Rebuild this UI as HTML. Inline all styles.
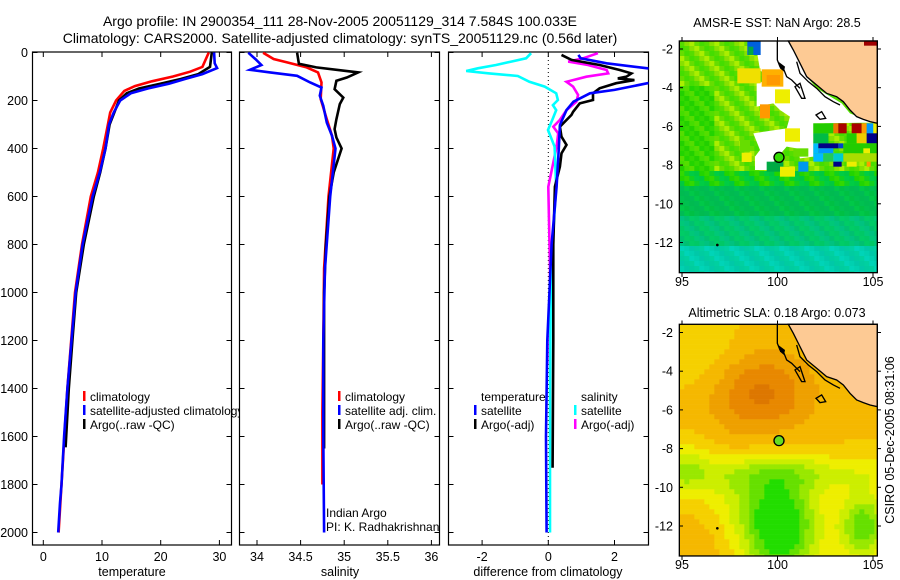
<!DOCTYPE html>
<html><head><meta charset="utf-8"><style>
html,body{margin:0;padding:0;background:#fff;}
svg{display:block;font-family:"Liberation Sans",Arial,sans-serif;}
</style></head><body>
<svg id="fig" width="900" height="580" viewBox="0 0 900 580" xmlns="http://www.w3.org/2000/svg">
<defs>
<clipPath id="c1"><rect x="32.5" y="52" width="199" height="493"/></clipPath>
<clipPath id="c2"><rect x="239.5" y="52" width="200" height="493"/></clipPath>
<clipPath id="c3"><rect x="448.5" y="52" width="200" height="493"/></clipPath>
<clipPath id="cm"><rect x="58" y="33" width="594" height="695"/></clipPath>
</defs>
<text x="340" y="26" text-anchor="middle" font-size="14">Argo profile: IN 2900354_111 28-Nov-2005 20051129_314 7.584S 100.033E</text>
<text x="340" y="43" text-anchor="middle" font-size="14">Climatology: CARS2000. Satellite-adjusted climatology: synTS_20051129.nc (0.56d later)</text>
<g id="profiles"></g>
<text x="777" y="27" text-anchor="middle" font-size="12.5">AMSR-E SST: NaN Argo: 28.5</text>
<text x="777" y="317" text-anchor="middle" font-size="12.5">Altimetric SLA: 0.18 Argo: 0.073</text>
<g id="sstmap" transform="translate(660,30) scale(0.33333)"></g>
<g id="slamap" transform="translate(660,313.3) scale(0.33333)"></g>
<g id="mapaxes"></g>
<text transform="translate(894,440) rotate(-90)" text-anchor="middle" font-size="12.5">CSIRO 05-Dec-2005 08:31:06</text>
</svg>
<script>
// ---- data ----
const tDepthC = [0,60,80,100,120,140,160,200,250,300,400,500,600,800,1000,1200,1400,1600,1800,2000];
const tClim   = [28.2,27.1,25.0,22.1,18.5,15.6,13.8,12.4,11.4,11.0,10.2,9.3,8.1,6.6,5.4,4.75,4.1,3.6,3.1,2.6];
const tDepthS = [0,45,65,90,110,130,150,170,200,250,300,400,500,600,800,1000,1200,1400,1600,1800,1877,2000];
const tSat    = [29.1,29.2,29.6,27.1,24.2,21.4,17.8,14.9,13.1,12.0,11.2,10.6,9.6,8.4,6.7,5.5,4.8,4.1,3.55,3.1,2.84,2.54];
const argoDepth = [0,60,90,110,130,150,170,200,300,400,500,600,800,1000,1200,1400,1645];
const tArgo   = [28.7,28.4,26.4,23.5,20.0,16.3,14.2,12.9,11.3,10.6,9.7,8.6,6.9,5.6,4.95,4.35,3.8];

const sDepthC = [1,27,41,62,83,125,194,278,347,400,600,900,1200,1500,1800];
const sClim   = [34.07,34.19,34.34,34.57,34.70,34.74,34.73,34.80,34.86,34.88,34.82,34.77,34.76,34.75,34.75];
const sDepthS = [1,27,52,72,83,97,125,146,180,222,292,347,400,600,900,1200,1600,2000];
const sSat    = [33.90,33.98,34.05,33.92,34.15,34.46,34.61,34.74,34.72,34.76,34.80,34.86,34.90,34.84,34.78,34.76,34.76,34.77];
const sDepthA = [1,47,62,83,104,118,153,188,215,278,319,354,400,500,600,800,1000,1300,1650];
const sArgo   = [34.46,34.48,34.68,35.16,35.03,34.91,34.89,34.99,34.95,34.91,34.89,34.91,34.97,34.88,34.83,34.79,34.77,34.77,34.77];

const dTSatDepth = [10,24,45,66,80,100,115,128,156,170,205,240,302,392,559,800,1200,1600,2000];
const dTSat      = [0.91,0.98,1.76,3.0,3.6,3.8,3.5,3.0,2.0,1.26,0.76,0.55,0.35,0.32,0.25,0.1,-0.03,-0.07,-0.05];
const dTArgoDepth= [10,31,52,73,87,101,108,115,128,149,170,198,212,247,260,309,351,385,420,476,559,800,1200,1730];
const dTArgo     = [0.4,0.7,1.55,2.16,2.51,2.36,2.1,2.6,2.05,1.55,1.35,1.35,0.95,0.75,0.7,0.35,0.4,0.55,0.4,0.35,0.2,0.15,0.15,0.13];
const dSSatDepth = [3,24,38,52,66,77,87,98,122,142,170,198,219,240,281,323,392,559,900,1400,2000];
const dSSat      = [-0.52,-0.67,-1.12,-1.58,-2.13,-2.48,-1.78,-0.92,-0.57,-0.11,0.24,0.29,0.14,0.24,0.12,-0.01,0.19,0.24,0.08,0.05,0.05];
const dSArgoDepth= [3,24,38,52,73,87,101,122,142,177,205,240,281,309,337,392,559,900,1300];
const dSArgo     = [1.5,1.05,0.6,1.2,1.76,1.81,1.15,0.55,0.75,0.9,0.85,0.55,0.35,0.15,0.3,0.25,0.0,0.05,0.05];

const depthTicks = [0,200,400,600,800,1000,1200,1400,1600,1800,2000];
const tempTicks = [0,10,20,30];
const salTicks = ["34","34.5","35","35.5","36"];
const diffTicks = ["-2","0","2"];

// ---- scales ----
const NS="http://www.w3.org/2000/svg";
const yD = d => 52.5 + d*0.24;
const xT = t => 43.3 + t*5.87;
const xS = s => 257 + (s-34)*87.2;
const xF = v => 548.3 + v*33.1;
const prof = document.getElementById('profiles');
function mk(tag, attrs, parent){const e=document.createElementNS(NS,tag);for(const k in attrs)e.setAttribute(k,attrs[k]);(parent||prof).appendChild(e);return e;}
function line(xs, ds, xf, color, clip, name){
  const pts = xs.map((v,i)=>xf(v).toFixed(1)+','+yD(ds[i]).toFixed(1)).join(' ');
  const p = mk('polyline',{points:pts,fill:'none',stroke:color,'stroke-width':2.6,'clip-path':'url(#'+clip+')'});
  
  
}
const panels=[[32.5,231.5],[239.5,439.5],[448.5,648.5]];
panels.forEach((p,i)=>{
  const r=mk('rect',{x:p[0],y:52,width:p[1]-p[0],height:493,fill:'#fff',stroke:'#000','stroke-width':1.2});
  
  
  depthTicks.forEach(d=>{
    mk('line',{x1:p[0],x2:p[0]+5,y1:yD(d),y2:yD(d),stroke:'#000'});
    mk('line',{x1:p[1],x2:p[1]-5,y1:yD(d),y2:yD(d),stroke:'#000'});
  });
});
depthTicks.forEach(d=>{
  const t=mk('text',{x:28,y:yD(d)+4.5,'text-anchor':'end','font-size':12.5});t.textContent=d;
  
  
});
function xticks(vals, xf, lab){
  vals.forEach(v=>{
    const x=xf(parseFloat(v));
    mk('line',{x1:x,x2:x,y1:545,y2:540,stroke:'#000'});
    mk('line',{x1:x,x2:x,y1:52,y2:57,stroke:'#000'});
    const t=mk('text',{x:x,y:561,'text-anchor':'middle','font-size':12.5});t.textContent=v;
    
    
  });
}
xticks(tempTicks,xT,'temperature');xticks(salTicks,xS,'salinity');xticks(diffTicks,xF,'difference');
[['temperature',132],['salinity',340],['difference from climatology',548]].forEach((a,i)=>{
  const t=mk('text',{x:a[1],y:576,'text-anchor':'middle','font-size':12.5});t.textContent=a[0];
  
  
});
const z=mk('line',{x1:xF(0),x2:xF(0),y1:52,y2:545,stroke:'#000','stroke-dasharray':'1,3'});


line(tClim,tDepthC,xT,'#ff0000','c1','temp-climatology-line');
line(tArgo,argoDepth,xT,'#000','c1','temp-argo-line');
line(tSat,tDepthS,xT,'#0000ff','c1','temp-satellite-line');
line(sClim,sDepthC,xS,'#ff0000','c2','sal-climatology-line');
line(sArgo,sDepthA,xS,'#000','c2','sal-argo-line');
line(sSat,sDepthS,xS,'#0000ff','c2','sal-satellite-line');
line(dSArgo,dSArgoDepth,xF,'#ff00ff','c3','diff-sal-argo-line');
line(dSSat,dSSatDepth,xF,'#00ffff','c3','diff-sal-satellite-line');
line(dTArgo,dTArgoDepth,xF,'#000','c3','diff-temp-argo-line');
line(dTSat,dTSatDepth,xF,'#0000ff','c3','diff-temp-satellite-line');
function leg(x,y,color,text,name,clip){
  if(color){const m=mk('rect',{x:x,y:y-10,width:2.5,height:10,fill:color});
    
    }
  const t=mk('text',{x:x+7,y:y,'font-size':12});t.textContent=text;
  if(clip)t.setAttribute('clip-path','url(#c1x)');
  
  
}
mk('clipPath',{id:'c1x'}).appendChild(document.createElementNS(NS,'rect'));
const cr=document.querySelector('#c1x rect');cr.setAttribute('x',0);cr.setAttribute('y',0);cr.setAttribute('width',239);cr.setAttribute('height',580);
leg(83,401,'#ff0000','climatology','legend-climatology');
leg(83,415,'#0000ff','satellite-adjusted climatology','legend-satellite-adjusted',true);
leg(83,429,'#000','Argo(..raw -QC)','legend-argo');
leg(338,401,'#ff0000','climatology','legend2-climatology');
leg(338,415,'#0000ff','satellite adj. clim.','legend2-satellite');
leg(338,429,'#000','Argo(..raw -QC)','legend2-argo');
leg(474,401,null,'temperature','legend3-temperature-header');
leg(474,415,'#0000ff','satellite','legend3-temp-satellite');
leg(474,429,'#000','Argo(-adj)','legend3-temp-argo');
leg(574,401,null,'salinity','legend3-salinity-header');
leg(574,415,'#00ffff','satellite','legend3-sal-satellite');
leg(574,429,'#ff00ff','Argo(-adj)','legend3-sal-argo');
[['Indian Argo',517],['PI: K. Radhakrishnan',531]].forEach((a,i)=>{
  const t=mk('text',{x:326,y:a[1],'font-size':12});t.textContent=a[0];
  
  
});

// ---- maps ----
function drawMap(g, colorAt, sst){
  const cells=document.createElementNS(NS,'g');cells.setAttribute('clip-path','url(#cm)');g.appendChild(cells);
  for(let y=33;y<728;y+=15){for(let x=58;x<652;x+=15){
    mk('rect',{x:x,y:y,width:15.5,height:15.5,fill:colorAt(x+7,y+7)},cells);
  }}
  if(sst){
    mk('polygon',{points:'300,33 390,33 440,140 470,175 545,220 570,250 640,278 460,280 460,380 420,385 410,355 380,350 320,420 285,420 285,380 300,360 280,310 380,295 390,260 360,240 340,220 290,230 290,160 330,150 300,120 290,60',fill:'#fff'},cells);
    const blocks=[['#0060dd',262,33,40,42],['#00aa44',265,50,15,25],['#a00000',612,33,40,14],
      ['#f0e000',232,115,70,45],['#ffb000',305,118,65,52],['#ff9900',320,135,40,30],['#eeee00',345,178,45,42],
      ['#ff9900',300,223,30,42],['#eeee00',375,295,45,40],['#66dd00',400,355,45,25],['#eeee00',245,368,30,28],
      ['#00aa44',320,395,50,30],['#0099ee',415,395,30,30],['#eeee00',360,410,45,30],['#66dd00',240,330,30,35],
      ['#22cc00',460,280,60,30],['#ee7700',520,280,15,30],['#aa0000',535,280,25,30],['#aa0000',575,280,30,30],['#ff9900',605,280,15,30],['#0099ff',620,280,20,30],['#eeee00',640,280,12,30],
      ['#00bb44',460,310,45,30],['#22cc00',560,310,30,30],['#eecc00',590,310,30,30],['#000088',620,310,32,30],
      ['#00bbff',460,340,15,30],['#000088',475,340,60,15],['#0044cc',535,340,15,15],['#22cc00',550,340,102,30],['#0099ff',475,355,45,15],['#eeee00',610,355,20,15],
      ['#00bbff',460,370,30,25],['#22cc55',490,370,30,25],['#00cccc',520,370,30,25],['#aadd00',550,370,102,25],
      ['#000088',520,395,25,15],['#eeee00',560,395,30,15],['#ff9900',620,395,12,15]];
    blocks.forEach(b=>mk('rect',{x:b[1],y:b[2],width:b[3],height:b[4],fill:b[0]},cells));
  }
  mk('polygon',{points:'385,33 400,60 420,100 440,140 470,165 500,190 530,200 550,215 570,240 590,260 610,268 630,275 652,280 652,33',fill:'#fdca94',stroke:'#000','stroke-width':4},g);
  if(sst){mk('rect',{x:612,y:33,width:40,height:14,fill:'#a00000'},g);}
  mk('polyline',{points:'352,33 352,90 360,110 372,120 380,140 395,150 410,165 420,175',fill:'none',stroke:'#000','stroke-width':4},g);
  mk('polyline',{points:'410,95 420,130 445,155 470,175 495,200 520,215 540,225',fill:'none',stroke:'#000','stroke-width':4},g);
  mk('polygon',{points:'405,170 420,160 430,190 435,205 425,205',fill:'none',stroke:'#000','stroke-width':4},g);
  mk('polygon',{points:'468,255 485,245 497,265 480,268',fill:'none',stroke:'#000','stroke-width':4},g);
  mk('polygon',{points:'355,95 375,110 372,125 360,115',fill:'#000'},g);
  mk('circle',{cx:172,cy:645,r:4,fill:'#000'},g);
  const c=mk('circle',{cx:357,cy:382,r:15,fill:sst?'#33dd00':'#66dd22',stroke:'#000','stroke-width':4},g);
  
  
  mk('rect',{x:58,y:33,width:594,height:695,fill:'none',stroke:'#000','stroke-width':4},g);
}
function gauss(x,y,cx,cy,sx,sy){return Math.exp(-((x-cx)**2/(2*sx*sx)+(y-cy)**2/(2*sy*sy)));}
function sstColor(x,y){
  const k=((Math.floor(x/15)*7+Math.floor(y/15)*13)%5);
  if(y<430){const pal=['#66dd00','#88e000','#44dd00','#aaee00','#55dd00'];
    if(x<160&&y>160)return ['#22d400','#44dd00','#33d800','#55dd00','#22d000'][k];
    return pal[k];}
  if(y<470)return ['#22d400','#00cc44','#33d800','#00c840','#11d020'][k];
  if(y<560)return ['#00c044','#00bb55','#00c050','#00c848','#00bb50'][k];
  if(y<650)return ['#00c866','#00c070','#00c878','#00cc66','#00c280'][k];
  return ['#00d0a0','#00c8a8','#00d4b8','#00cca0','#00d0b0'][k];
}
const slaPal=['#22dd00','#66e000','#99e800','#ccee00','#eeee00','#f5d000','#f5b800','#eea000','#e88800','#dd7700'];
function slaColor(x,y){
  let v=0.62+0.35*gauss(x,y,300,240,110,90)-0.75*gauss(x,y,360,640,80,110)-0.55*gauss(x,y,610,640,50,70)
    -0.25*gauss(x,y,380,480,300,40)-0.25*gauss(x,y,70,470,60,60)-0.12*gauss(x,y,130,130,90,80)+0.1*gauss(x,y,90,700,60,60)
    -0.15*gauss(x,y,230,560,70,70);
  const i=Math.max(0,Math.min(9,Math.round(v*9)));return slaPal[i];
}
drawMap(document.getElementById('sstmap'),sstColor,true);
drawMap(document.getElementById('slamap'),slaColor,false);
const ma=document.getElementById('mapaxes');
[[41,273,49,'sst'],[324.5,556,332.5,'sla']].forEach(m=>{
  const top=m[0],bot=m[1],y0=m[2];
  const latTicks=['-2','-4','-6','-8','-10','-12'];
  latTicks.forEach((l,i)=>{const y=y0+i*38.7;
    mk('line',{x1:679,x2:683,y1:y,y2:y,stroke:'#000'},ma);
    mk('line',{x1:877,x2:881,y1:y,y2:y,stroke:'#000'},ma);
    const t=mk('text',{x:673,y:y+4.5,'text-anchor':'end','font-size':12.5},ma);t.textContent=l;
    
    });
  ['95','100','105'].forEach((l,i)=>{const x=682+i*95.5;
    mk('line',{x1:x,x2:x,y1:bot,y2:bot+4,stroke:'#000'},ma);
    mk('line',{x1:x,x2:x,y1:top,y2:top-4,stroke:'#000'},ma);
    const t=mk('text',{x:x,y:bot+13,'text-anchor':'middle','font-size':12.5},ma);t.textContent=l;
    
    });
});
</script>
</body></html>
